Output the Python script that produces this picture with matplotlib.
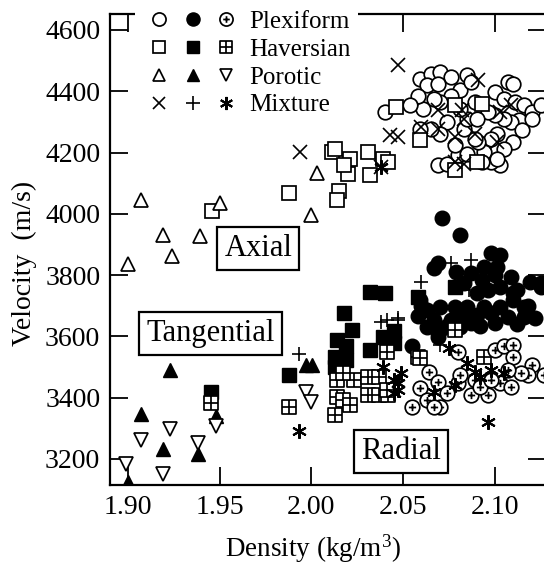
import matplotlib
matplotlib.use('Agg')
import matplotlib.pyplot as plt
import numpy as np
from matplotlib.path import Path
from matplotlib.lines import Line2D
from matplotlib.legend_handler import HandlerTuple

plt.rcParams['font.family'] = ['Liberation Serif', 'DejaVu Serif']
plt.rcParams['mathtext.fontset'] = 'custom'
plt.rcParams['mathtext.rm'] = 'Liberation Serif'
plt.rcParams['mathtext.it'] = 'Liberation Serif:italic'

# ---------------- data (density, velocity) ----------------
plex_axial = [(2.059,4441),(2.065,4457),(2.070,4463),(2.076,4446),(2.063,4419),(2.069,4425),
              (2.081,4403),(2.085,4452),(2.087,4430),(2.107,4430),(2.110,4425),(2.100,4397),
              (2.105,4376),(2.111,4365),(2.116,4354),(2.120,4332),(2.125,4354),(2.113,4305),
              (2.109,4300),(2.105,4310),(2.100,4321),(2.096,4332),(2.101,4261),(2.098,4245),
              (2.110,4234),(2.105,4212),(2.103,4158),(2.098,4169),(2.094,4202),(2.091,4234),
              (2.089,4245),(2.083,4278),(2.085,4310),(2.074,4300),(2.070,4261),(2.065,4278),
              (2.061,4343),(2.058,4386),(2.054,4354),(2.040,4332),(2.080,4191),(2.085,4196),
              (2.069,4158),(2.074,4164),(2.076,4386),(2.070,4365),(2.093,4169),(2.101,4180),
              (2.115,4272),(2.120,4310),(2.067,4376),(2.089,4365),(2.059,4278),(2.081,4343),
              (2.090,4310),(2.078,4223)]
plex_tang = [(2.071,3985),(2.081,3931),(2.069,3839),(2.067,3822),(2.098,3871),(2.103,3866),
             (2.079,3811),(2.087,3806),(2.094,3828),(2.101,3828),(2.109,3795),(2.119,3779),
             (2.125,3773),(2.112,3752),(2.103,3762),(2.096,3752),(2.090,3741),(2.059,3719),
             (2.058,3665),(2.063,3686),(2.070,3697),(2.078,3697),(2.085,3697),(2.094,3697),
             (2.103,3697),(2.116,3697),(2.110,3719),(2.098,3675),(2.107,3664),(2.116,3664),
             (2.067,3654),(2.076,3654),(2.085,3654),(2.063,3632),(2.070,3621),(2.087,3643),
             (2.081,3632),(2.055,3567),(2.069,3599),(2.069,3611),(2.125,3761),
             (2.100,3800),(2.093,3785),(2.083,3775),(2.110,3740),(2.118,3700),(2.122,3660),
             (2.090,3670),(2.080,3670),(2.092,3635),(2.100,3645),(2.074,3635),(2.060,3700),
             (2.112,3640)]
plex_rad = [(2.055,3371),(2.070,3371),(2.059,3431),(2.064,3485),(2.069,3452),(2.080,3447),
            (2.080,3550),(2.087,3409),(2.096,3409),(2.103,3447),(2.100,3556),(2.105,3567),
            (2.110,3572),(2.110,3534),(2.120,3507),(2.118,3474),(2.127,3474),(2.114,3480),
            (2.107,3491),(2.081,3474),(2.089,3458),(2.092,3436),(2.098,3458),(2.109,3436),
            (2.074,3414),(2.063,3393),(2.067,3371)]

hav_axial = [(1.946,4009),(1.988,4067),(2.011,4202),(2.013,4212),(2.021,4180),(2.031,4202),
             (2.039,4180),(2.042,4169),(2.032,4125),(2.020,4131),(2.018,4158),(2.015,4076),
             (2.014,4044),(2.046,4348),(2.059,4240),(2.078,4354),(2.093,4359),(2.078,4142),
             (2.090,4169)]
hav_tang = [(2.032,3746),(2.040,3741),(2.018,3675),(2.022,3621),(2.014,3588),(2.019,3567),
            (2.013,3534),(2.013,3501),(2.019,3523),(2.032,3556),(2.039,3599),(2.045,3616),
            (2.045,3578),(1.988,3474),(2.058,3730),(2.078,3762),(1.945,3418)]
hav_rad = [(1.945,3383),(1.988,3370),(2.014,3458),(2.023,3458),(2.014,3403),(2.017,3393),
           (2.021,3376),(2.013,3344),(2.031,3469),(2.037,3469),(2.031,3409),(2.037,3409),
           (2.042,3409),(2.041,3550),(2.017,3480),(2.058,3534),(2.078,3621),(2.059,3529),
           (2.094,3534),(2.041,3425)]

por_axial = [(1.907,4045),(1.950,4036),(1.919,3931),(1.939,3927),(1.924,3862),(1.900,3836),
             (2.003,4132),(2.000,3996)]
por_tang = [(1.923,3489),(1.907,3346),(1.919,3232),(1.938,3215),(1.948,3341),(1.900,3126),
            (1.997,3508),(2.0005,3508)]
por_rad = [(1.923,3298),(1.907,3262),(1.919,3152),(1.938,3253),(1.948,3308),(1.899,3185),
           (1.997,3417),(2.000,3385)]

mix_axial = [(1.994,4202),(2.047,4487),(2.043,4256),(2.047,4251),(2.060,4283),(2.069,4278),
             (2.078,4251),(2.089,4261),(2.091,4436),(2.069,4338),(2.082,4338),(2.083,4310),
             (2.103,4332),(2.109,4354),(2.101,4234),(2.078,4169),(2.083,4164),(2.038,4152)]
mix_tang = [(2.076,3839),(2.087,3849),(2.060,3779),(2.086,3752),(2.047,3659),(1.993,3542),
            (2.038,3648),(2.041,3654),(2.047,3654),(2.070,3572)]
mix_rad = [(1.993,3290),(2.096,3322),(2.075,3561),(2.039,3501),(2.047,3447),(2.049,3480),
           (2.045,3414),(2.085,3512),(2.089,3485),(2.098,3491),(2.105,3480),(2.067,3420),
           (2.078,3442),(2.092,3469),(2.045,3458),(2.047,3425),(2.038,4152)]

bone_types = ['Plexiform', 'Haversian', 'Porotic', 'Mixture']
region_labels = [('Axial', 1.971, 3886), ('Tangential', 1.945, 3610), ('Radial', 2.049, 3224)]
xtick_vals = [1.90, 1.95, 2.00, 2.05, 2.10]
xtick_labels = ['1.90', '1.95', '2.00', '2.05', '2.10']
ytick_vals = [3200, 3400, 3600, 3800, 4000, 4200, 4400, 4600]
ytick_labels = ['3200', '3400', '3600', '3800', '4000', '4200', '4400', '4600']

# ---------------- custom markers ----------------
circ_plus = Path.make_compound_path(Path.unit_circle(),
                                    Path([[-0.5, 0], [0.5, 0]]),
                                    Path([[0, -0.5], [0, 0.5]]))
sq = Path([[-1, -1], [1, -1], [1, 1], [-1, 1], [-1, -1]],
          [Path.MOVETO, Path.LINETO, Path.LINETO, Path.LINETO, Path.CLOSEPOLY])
sq_plus = Path.make_compound_path(sq, Path([[-1, 0], [1, 0]]), Path([[0, -1], [0, 1]]))

styles = {
    'plex_axial': dict(marker='o', ms=10.5, mfc='white', mec='black', mew=1.25),
    'plex_tang': dict(marker='o', ms=10.5, mfc='black', mec='black', mew=1.0),
    'plex_rad': dict(marker=circ_plus, ms=10.5, mfc='white', mec='black', mew=1.25),
    'hav_axial': dict(marker='s', ms=9.5, mfc='white', mec='black', mew=1.25),
    'hav_tang': dict(marker='s', ms=9.5, mfc='black', mec='black', mew=1.0),
    'hav_rad': dict(marker=sq_plus, ms=9.5, mfc='white', mec='black', mew=1.25),
    'por_axial': dict(marker='^', ms=9.5, mfc='white', mec='black', mew=1.25),
    'por_tang': dict(marker='^', ms=9.5, mfc='black', mec='black', mew=1.0),
    'por_rad': dict(marker='v', ms=9.5, mfc='white', mec='black', mew=1.25),
    'mix_axial': dict(marker='x', ms=9.5, mfc='black', mec='black', mew=1.2),
    'mix_tang': dict(marker='+', ms=10.5, mfc='black', mec='black', mew=1.2),
    'mix_rad': dict(marker=(6, 2, 0), ms=10.5, mfc='black', mec='black', mew=1.5),
}
series = {
    'plex_axial': plex_axial, 'plex_tang': plex_tang, 'plex_rad': plex_rad,
    'hav_axial': hav_axial, 'hav_tang': hav_tang, 'hav_rad': hav_rad,
    'por_axial': por_axial, 'por_tang': por_tang, 'por_rad': por_rad,
    'mix_axial': mix_axial, 'mix_tang': mix_tang, 'mix_rad': mix_rad,
}
draw_order = ['plex_tang', 'hav_tang', 'plex_axial', 'hav_axial', 'por_axial', 'por_tang',
              'por_rad', 'hav_rad', 'plex_rad', 'mix_axial', 'mix_tang', 'mix_rad']

fig = plt.figure(figsize=(5.44, 5.68), dpi=100)
ax = fig.add_axes([110/544, 83/568, 435.5/544, 471/568])

for key in draw_order:
    arr = np.array(series[key])
    ax.plot(arr[:, 0], arr[:, 1], ls='none', **styles[key])

ax.set_xlim(1.8902, 2.1276)
ax.set_ylim(3115, 4652)
ax.set_xticks(xtick_vals)
ax.set_xticklabels(xtick_labels)
ax.set_yticks(ytick_vals)
ax.set_yticklabels(ytick_labels)
ax.tick_params(direction='in', length=13, width=1.3, top=True, right=True,
               labelsize=20, pad=7)
for s in ax.spines.values():
    s.set_linewidth(1.6)

ax.set_xlabel(r'Density (kg/m$^{3}$)', fontsize=19.5, x=0.467, labelpad=9)
ax.set_ylabel('Velocity  (m/s)', fontsize=20, y=0.47, labelpad=6)

for name, tx, ty in region_labels:
    ax.text(tx, ty, name, ha='center', va='center', fontsize=22, zorder=10,
            bbox=dict(boxstyle='square,pad=0.23', fc='white', ec='black', lw=1.6))

handles = []
for pre in ['plex', 'hav', 'por', 'mix']:
    trip = tuple(Line2D([], [], ls='none', **styles[pre + suf]) for suf in ['_axial', '_tang', '_rad'])
    handles.append(trip)
leg = ax.legend(handles, bone_types, loc='upper left',
                bbox_to_anchor=(135/544, 1.0 - 3/568), bbox_transform=fig.transFigure,
                handler_map={tuple: HandlerTuple(ndivide=None, pad=0)},
                handlelength=4.02, handletextpad=0.24, labelspacing=0.21,
                borderpad=0.3, borderaxespad=0, frameon=True, fancybox=False,
                facecolor='white', edgecolor='none', framealpha=1,
                fontsize=18, markerscale=0.9)
leg.set_zorder(20)

fig.savefig('out.png', dpi=100)
